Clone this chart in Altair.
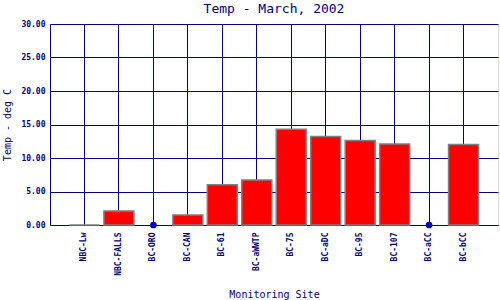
import altair as alt
import pandas as pd

sites = ["NBC-Lw", "NBC-FALLS", "BC-ORO", "BC-CAN", "BC-61", "BC-aWWTP",
         "BC-75", "BC-aDC", "BC-95", "BC-107", "BC-aCC", "BC-bCC"]
temps = [0.0, 2.1, None, 1.5, 6.0, 6.7, 14.3, 13.2, 12.6, 12.1, None, 12.0]
y_ticks = [0, 5, 10, 15, 20, 25, 30]

NAVY = "#000080"
FONT = "DejaVu Sans Mono"

df = pd.DataFrame({"site": sites, "temp": temps})
df["missing"] = df["temp"].isna()
df["zero"] = 0.0

yaxis = alt.Axis(
    values=y_ticks, format=".2f", title="Temp - deg C",
    labelFont=FONT, labelFontSize=8, labelFontWeight="bold",
    labelColor=NAVY, labelPadding=5, ticks=False, labelOverlap=False,
    domainColor=NAVY, gridColor=NAVY, gridOpacity=1,
    titleFont=FONT, titleFontSize=10, titleFontWeight="normal",
    titleColor=NAVY, titlePadding=8,
)
yscale = alt.Scale(domain=[0, 30], nice=False)

xenc = alt.X(
    "site:N", sort=sites,
    scale=alt.Scale(paddingInner=0, paddingOuter=0.5),
    axis=alt.Axis(
        title="Monitoring Site", labelAngle=-90, bandPosition=0.5,
        labelFont=FONT, labelFontSize=8, labelFontWeight="bold", labelColor=NAVY,
        labelPadding=7, ticks=False, domainColor=NAVY, gridColor=NAVY,
        gridOpacity=1, grid=True, titleFont=FONT, titleFontSize=10,
        titleFontWeight="normal", titleColor=NAVY, titleY=72,
        titleBaseline="alphabetic",
    ),
)

bars = alt.Chart(df).transform_filter("datum.temp != null").mark_bar(
    color="#FF0000", stroke="#808080", strokeWidth=1.5,
    width=alt.RelativeBandSize(0.87)
).encode(
    x=xenc,
    y=alt.Y("temp:Q", scale=yscale, axis=yaxis),
)

dots = alt.Chart(df).transform_filter("datum.missing").mark_circle(
    color="#0000CC", size=45, opacity=1
).encode(
    x=alt.X("site:N", sort=sites),
    y=alt.Y("zero:Q", scale=yscale, axis=yaxis),
)

chart = alt.layer(bars, dots).properties(
    width=448, height=201,
    title=alt.TitleParams(
        "Temp - March, 2002", font=FONT, fontSize=13, fontWeight="normal",
        color=NAVY, anchor="middle", frame="group", offset=4,
    ),
    autosize=alt.AutoSizeParams(type="none"),
    padding={"left": 50, "top": 24, "right": 2, "bottom": 75},
).configure_view(stroke=NAVY, strokeWidth=1).configure(background="white")

chart.save("out.html", embed_options={"renderer": "svg", "actions": False})
